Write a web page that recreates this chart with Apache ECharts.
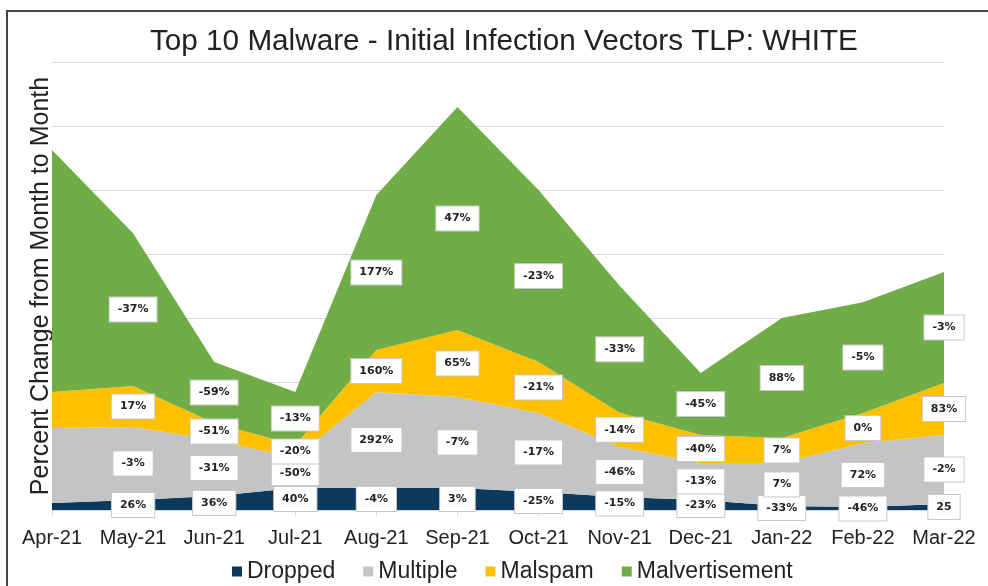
<!DOCTYPE html>
<html>
<head>
<meta charset="utf-8">
<script src="https://cdn.jsdelivr.net/npm/echarts@6/dist/echarts.min.js"></script>
<style>
  html, body { margin: 0; padding: 0; background: #fff; }
  #chart { width: 988px; height: 586px; }
</style>
</head>
<body>
<div id="chart"></div>
<script>
const months = ['Apr-21', 'May-21', 'Jun-21', 'Jul-21', 'Aug-21', 'Sep-21', 'Oct-21', 'Nov-21', 'Dec-21', 'Jan-22', 'Feb-22', 'Mar-22'];

// band thickness per month (stacked)
const dropped = [5.5, 7.8, 10.9, 17.2, 17.2, 17.2, 14.1, 10.2, 7.8, 3.1, 2.3, 4.7];
const multiple = [58.6, 57, 43.8, 23.4, 75, 71.1, 61.7, 39.1, 28.9, 33.6, 50, 53.9];
const malspam = [28.1, 32, 13.3, 10.2, 32.8, 52.3, 39.8, 26.6, 21.9, 19.5, 23.4, 40.6];
const malvert = [189, 119.5, 47.7, 41.4, 121, 174.2, 134.4, 99.2, 48.4, 93.8, 86.7, 86.7];

// percent change labels
const droppedLabels = ['', '26%', '36%', '40%', '-4%', '3%', '-25%', '-15%', '-23%', '-33%', '-46%', '25'];
const multipleLabels = ['', '-3%', '-31%', '-50%', '292%', '-7%', '-17%', '-46%', '-13%', '7%', '72%', '-2%'];
const malspamLabels = ['', '17%', '-51%', '-20%', '160%', '65%', '-21%', '-14%', '-40%', '7%', '0%', '83%'];
const malvertLabels = ['', '-37%', '-59%', '-13%', '177%', '47%', '-23%', '-33%', '-45%', '88%', '-5%', '-3%'];

const names = ['Dropped', 'Multiple', 'Malspam', 'Malvertisement'];
const colors = ['#0b3a5c', '#c3c4c6', '#ffc000', '#70ad47'];
const layers = [dropped, multiple, malspam, malvert];
const layerLabels = [droppedLabels, multipleLabels, malspamLabels, malvertLabels];

const chart = echarts.init(document.getElementById('chart'));

// area series
const areaSeries = layers.map((vals, i) => ({
  name: names[i],
  type: 'line',
  stack: 'total',
  data: vals,
  symbol: 'none',
  lineStyle: { width: 0 },
  areaStyle: { color: colors[i], opacity: 1 },
  itemStyle: { color: colors[i] },
  silent: true,
  z: 2
}));

// labels sit in the middle of each band
const labelSeries = layers.map((vals, i) => {
  const pts = vals.map((v, k) => {
    let base = 0;
    for (let j = 0; j < i; j++) base += layers[j][k];
    return [k, base + v / 2];
  }).filter((p, k) => layerLabels[i][k] !== '');
  return {
    type: 'scatter',
    data: pts,
    symbolSize: 1,
    itemStyle: { color: 'rgba(0,0,0,0)', opacity: 1 },
    silent: true,
    z: 5,
    label: {
      show: true,
      position: 'inside',
      formatter: p => layerLabels[i][p.data[0]],
      backgroundColor: '#fff',
      borderColor: '#c8c8c8',
      borderWidth: 1,
      padding: [7, 8, 6, 8],
      fontFamily: 'DejaVu Sans',
      fontSize: 11,
      fontWeight: 'bold',
      color: '#222',
      opacity: 1
    }
  };
});

chart.setOption({
  animation: false,
  title: {
    text: 'Top 10 Malware - Initial Infection Vectors TLP: WHITE',
    left: 145,
    top: 22,
    textStyle: { fontFamily: 'Liberation Sans', fontSize: 29.7, fontWeight: 'normal', color: '#222' }
  },
  legend: {
    data: names,
    bottom: -2,
    left: 227,
    icon: 'rect',
    itemWidth: 10,
    itemHeight: 10,
    itemGap: 28,
    textStyle: { fontFamily: 'Liberation Sans', fontSize: 23, color: '#222' }
  },
  grid: { left: 52, right: 44, top: 62, bottom: 76 },
  xAxis: {
    type: 'category',
    data: months,
    boundaryGap: false,
    axisLine: { lineStyle: { color: '#d9d9d9' } },
    axisTick: { show: true, length: 6, lineStyle: { color: '#d9d9d9' } },
    axisLabel: { interval: 0, margin: 18, fontFamily: 'Liberation Sans', fontSize: 20, color: '#222' }
  },
  yAxis: {
    type: 'value',
    min: 0,
    max: 350,
    interval: 50,
    name: 'Percent Change from Month to Month',
    nameLocation: 'middle',
    nameGap: -2,
    nameTextStyle: { fontFamily: 'Liberation Sans', fontSize: 25, color: '#222' },
    axisLabel: { show: false },
    axisLine: { show: false },
    axisTick: { show: false },
    splitLine: { lineStyle: { color: '#d9d9d9' } }
  },
  graphic: [{
    type: 'rect',
    shape: { x: 7, y: 11, width: 1100, height: 700 },
    style: { fill: 'none', stroke: '#444', lineWidth: 2 },
    silent: true
  }],
  series: areaSeries.concat(labelSeries)
});
</script>
</body>
</html>
